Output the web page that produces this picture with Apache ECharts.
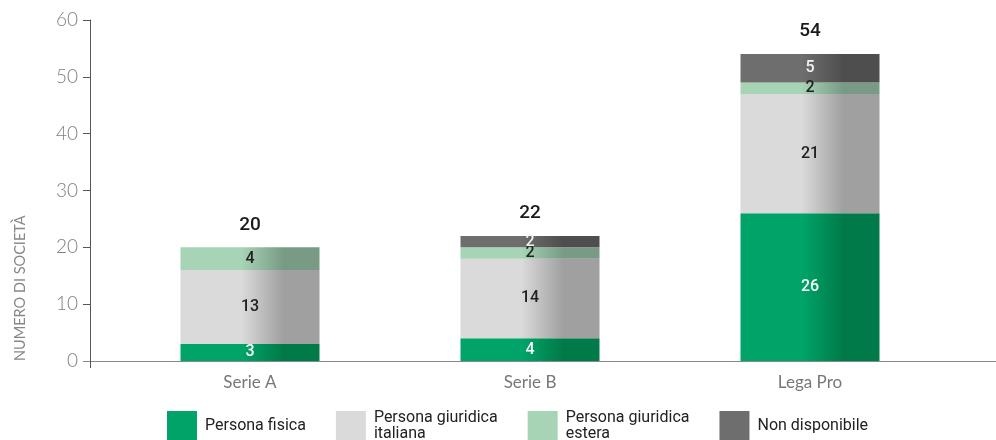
<!DOCTYPE html>
<html><head><meta charset="utf-8">
<script src="https://cdn.jsdelivr.net/npm/echarts@6/dist/echarts.min.js"></script>
<style>html,body{margin:0;padding:0;background:#fff}#c{width:996px;height:440px}</style>
</head><body><div id="c"></div>
<script>
const categories = ['Serie A', 'Serie B', 'Lega Pro'];
const personaFisica = [3, 4, 26];
const giuridicaItaliana = [13, 14, 21];
const giuridicaEstera = [4, 2, 2];
const nonDisponibile = [0, 2, 5];
const seriesNames = ['Persona fisica', 'Persona giuridica\nitaliana', 'Persona giuridica\nestera', 'Non disponibile'];
const yTicks = [0, 10, 20, 30, 40, 50, 60];

const totals = categories.map((_, i) => personaFisica[i] + giuridicaItaliana[i] + giuridicaEstera[i] + nonDisponibile[i]);

const palette = [
  {base: '#00a469', dark: '#007a48', label: '#ffffff'},
  {base: '#dadada', dark: '#a0a0a0', label: '#222222'},
  {base: '#a7d4b5', dark: '#799b86', label: '#222222'},
  {base: '#6e6e6e', dark: '#4e4e4e', label: '#f2f2f2'}
];
function grad(p) {
  return new echarts.graphic.LinearGradient(0, 0, 1, 0, [
    {offset: 0, color: p.base},
    {offset: 0.44, color: p.base},
    {offset: 0.74, color: p.dark},
    {offset: 1, color: p.dark}
  ]);
}
const dataSets = [personaFisica, giuridicaItaliana, giuridicaEstera, nonDisponibile];
const FONT = 'Roboto, "Noto Sans", sans-serif';

const series = dataSets.map((d, k) => ({
  name: seriesNames[k],
  type: 'bar',
  stack: 'tot',
  barWidth: 139,
  data: d,
  itemStyle: {color: grad(palette[k])},
  label: {
    show: true, position: 'inside',
    color: palette[k].label, fontSize: 16, fontWeight: 500, fontFamily: FONT,
    formatter: p => p.value ? String(p.value) : ''
  },
  emphasis: {disabled: true}
}));
series.push({
  name: 'totale', type: 'bar', stack: 'tot', barWidth: 139,
  data: totals.map(() => 0),
  itemStyle: {color: 'transparent'},
  label: {
    show: true, position: 'top', distance: 13,
    color: '#1a1a1a', fontSize: 19, fontWeight: 500, fontFamily: FONT,
    formatter: p => String(totals[p.dataIndex])
  },
  emphasis: {disabled: true}
});

const chart = echarts.init(document.getElementById('c'), null, {renderer: 'canvas'});
chart.setOption({
  animation: false,
  backgroundColor: '#ffffff',
  grid: {left: 110, right: 46, top: 20, bottom: 79},
  legend: {
    top: 410, left: 167, padding: 0,
    itemWidth: 30, itemHeight: 30, itemGap: 30,
    icon: 'rect',
    textStyle: {fontSize: 16, color: '#222', fontFamily: FONT, lineHeight: 16, padding: [0, 0, 0, 3]},
    data: seriesNames.map((n, k) => ({name: n, itemStyle: {color: palette[k].base}}))
  },
  xAxis: {
    type: 'category', data: categories,
    axisLine: {show: false}, axisTick: {show: false},
    axisLabel: {color: '#777', fontSize: 17, margin: 13, fontFamily: 'Lato, Roboto, sans-serif'}
  },
  yAxis: {
    type: 'value', min: 0, max: 60, interval: 10, offset: 20,
    axisLine: {show: true, lineStyle: {color: '#555', width: 1}},
    axisTick: {show: true, length: 7, lineStyle: {color: '#555'}},
    splitLine: {show: false},
    axisLabel: {color: '#808080', fontSize: 19, margin: 12, fontFamily: 'Lato, Roboto, sans-serif', fontWeight: 300,
      formatter: v => yTicks.includes(v) ? String(v) : ''}
  },
  series: series
});
const y0 = chart.convertToPixel({yAxisIndex: 0}, 0);
chart.setOption({
  graphic: [
    {type: 'line', shape: {x1: 83, y1: y0 + 0.5, x2: 996, y2: y0 + 0.5}, style: {stroke: '#888', lineWidth: 1}, z: 100},
    {type: 'line', shape: {x1: 90.5, y1: y0, x2: 90.5, y2: y0 + 7}, style: {stroke: '#555', lineWidth: 1}, z: 100},
    {type: 'text', x: 20, y: y0, rotation: Math.PI / 2,
      style: {text: 'NUMERO DI SOCIETÀ', fill: '#888', fontSize: 14.5, fontFamily: 'Lato, Roboto, sans-serif', align: 'left', verticalAlign: 'middle'}}
  ]
});
</script></body></html>
